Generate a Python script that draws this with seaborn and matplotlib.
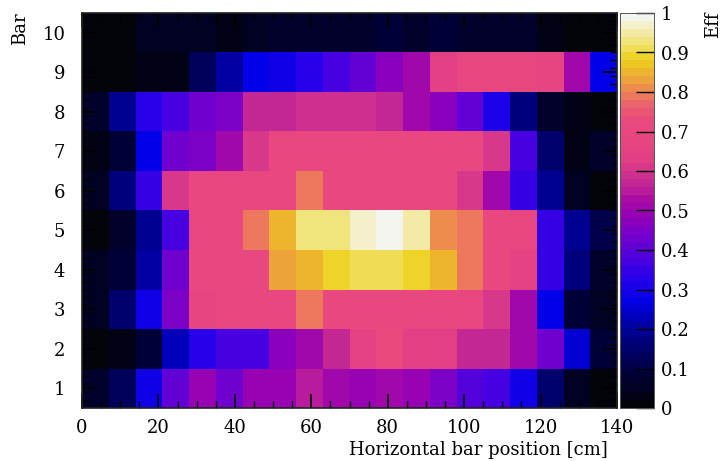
import numpy as np
import pandas as pd
import matplotlib
matplotlib.use("Agg")
import matplotlib.pyplot as plt
import seaborn as sns
from matplotlib.colors import LinearSegmentedColormap, ListedColormap
from matplotlib.ticker import FixedLocator

# ---- data (efficiency per bar and 7 cm horizontal bin) ----
x_edges_cm = [0, 7, 14, 21, 28, 35, 42, 49, 56, 63, 70, 77, 84, 91, 98, 105, 112, 119, 126, 133, 140]
bars = [10, 9, 8, 7, 6, 5, 4, 3, 2, 1]

bar10 = [0.01, 0.01, 0.04, 0.04, 0.05, 0.03, 0.05, 0.06, 0.07, 0.06, 0.06, 0.09, 0.07, 0.09, 0.07, 0.07, 0.07, 0.03, 0.01, 0.01]
bar9 = [0.01, 0.01, 0.02, 0.02, 0.12, 0.20, 0.27, 0.28, 0.32, 0.36, 0.40, 0.47, 0.50, 0.62, 0.68, 0.68, 0.68, 0.67, 0.50, 0.27]
bar8 = [0.07, 0.18, 0.32, 0.37, 0.43, 0.45, 0.56, 0.56, 0.59, 0.59, 0.59, 0.57, 0.50, 0.47, 0.40, 0.31, 0.17, 0.06, 0.02, 0.01]
bar7 = [0.03, 0.08, 0.27, 0.42, 0.45, 0.50, 0.60, 0.68, 0.70, 0.70, 0.71, 0.70, 0.70, 0.70, 0.70, 0.60, 0.37, 0.15, 0.03, 0.06]
bar6 = [0.05, 0.17, 0.35, 0.61, 0.68, 0.69, 0.70, 0.70, 0.78, 0.70, 0.71, 0.71, 0.70, 0.70, 0.61, 0.50, 0.35, 0.18, 0.04, 0.01]
bar5 = [0.01, 0.06, 0.18, 0.36, 0.69, 0.70, 0.78, 0.85, 0.92, 0.93, 0.96, 1.00, 0.94, 0.81, 0.79, 0.70, 0.68, 0.35, 0.18, 0.10]
bar4 = [0.05, 0.08, 0.20, 0.42, 0.70, 0.70, 0.70, 0.82, 0.84, 0.88, 0.91, 0.90, 0.88, 0.85, 0.78, 0.70, 0.65, 0.35, 0.17, 0.06]
bar3 = [0.05, 0.14, 0.28, 0.45, 0.66, 0.69, 0.70, 0.70, 0.78, 0.70, 0.71, 0.71, 0.71, 0.70, 0.69, 0.61, 0.50, 0.27, 0.09, 0.05]
bar2 = [0.01, 0.02, 0.08, 0.23, 0.32, 0.37, 0.37, 0.47, 0.50, 0.57, 0.64, 0.72, 0.62, 0.62, 0.57, 0.57, 0.50, 0.42, 0.25, 0.09]
bar1 = [0.07, 0.12, 0.28, 0.40, 0.48, 0.43, 0.48, 0.49, 0.55, 0.50, 0.49, 0.50, 0.48, 0.44, 0.38, 0.37, 0.28, 0.14, 0.04, 0.01]

x_ticks_cm = [0, 20, 40, 60, 80, 100, 120, 140]
cbar_ticks = [0, 0.1, 0.2, 0.3, 0.4, 0.5, 0.6, 0.7, 0.8, 0.9, 1.0]
cbar_labels = ["0", "0.1", "0.2", "0.3", "0.4", "0.5", "0.6", "0.7", "0.8", "0.9", "1"]

rows = [bar10, bar9, bar8, bar7, bar6, bar5, bar4, bar3, bar2, bar1]
df = pd.DataFrame(rows, index=bars, columns=x_edges_cm[:-1])

# ---- palette (black -> blue -> purple -> pink -> orange -> yellow -> white) ----
anchors = [
    (0.00, (0.01, 0.01, 0.04)),
    (0.08, (0.00, 0.00, 0.22)),
    (0.14, (0.00, 0.00, 0.42)),
    (0.20, (0.00, 0.00, 0.62)),
    (0.26, (0.00, 0.00, 0.90)),
    (0.32, (0.14, 0.00, 0.92)),
    (0.37, (0.28, 0.00, 0.88)),
    (0.42, (0.42, 0.00, 0.82)),
    (0.48, (0.57, 0.00, 0.72)),
    (0.53, (0.67, 0.05, 0.64)),
    (0.58, (0.78, 0.17, 0.57)),
    (0.63, (0.88, 0.25, 0.52)),
    (0.68, (0.91, 0.27, 0.51)),
    (0.74, (0.91, 0.29, 0.49)),
    (0.78, (0.92, 0.40, 0.42)),
    (0.81, (0.93, 0.53, 0.32)),
    (0.85, (0.93, 0.68, 0.20)),
    (0.89, (0.93, 0.82, 0.10)),
    (0.93, (0.94, 0.88, 0.40)),
    (0.97, (0.95, 0.93, 0.72)),
    (1.00, (0.96, 0.96, 0.94)),
]
smooth = LinearSegmentedColormap.from_list("eff", anchors)
cmap = ListedColormap(smooth(np.linspace(0, 1, 50)))

plt.rcParams["font.family"] = ["DejaVu Serif"]
plt.rcParams["font.size"] = 13

W, H = 723, 461
fig = plt.figure(figsize=(W / 100, H / 100), dpi=100)
ax = fig.add_axes([82 / W, 1 - 408 / H, (617 - 82) / W, (408 - 13) / H])
cax = fig.add_axes([620 / W, 1 - 408 / H, 34 / W, (408 - 13) / H])

sns.heatmap(df, ax=ax, cmap=cmap, vmin=0, vmax=1, cbar_ax=cax,
            xticklabels=False, yticklabels=False, linewidths=0)

bin_w = x_edges_cm[1] - x_edges_cm[0]
# x axis: cm -> column index
ax.xaxis.set_major_locator(FixedLocator([v / bin_w for v in x_ticks_cm]))
ax.set_xticklabels([str(v) for v in x_ticks_cm])
ax.xaxis.set_minor_locator(FixedLocator([v / bin_w for v in range(0, 141, 5) if v % 20]))
# y axis: bar number -> heatmap row coordinate
nb = len(bars)
ax.yaxis.set_major_locator(FixedLocator([nb + 0.5 - b for b in range(1, nb + 1)]))
ax.set_yticklabels([str(b) for b in range(1, nb + 1)])
ax.yaxis.set_minor_locator(FixedLocator([nb + 0.5 - (0.5 + 0.2 * k) for k in range(1, 50)]))
ax.set_xlim(0, len(x_edges_cm) - 1)
ax.set_ylim(nb, 0)

ax.tick_params(which="both", direction="in", top=True, right=True, colors="black", labelsize=13)
ax.tick_params(which="major", length=10, width=1.2, pad=8)
ax.tick_params(which="minor", length=5, width=1.0)
ax.tick_params(axis="y", which="major", pad=12)
for lab in ax.get_xticklabels() + ax.get_yticklabels():
    lab.set_rotation(0)
for s in ax.spines.values():
    s.set_visible(True)
    s.set_color("#222222")
    s.set_linewidth(1.2)

ax.set_xlabel("")
ax.set_ylabel("")
fig.text(608 / W, 1 - 450 / H, "Horizontal bar position [cm]", ha="right", va="center", fontsize=13)
fig.text(20 / W, 1 - 12 / H, "Bar", ha="center", va="top", rotation=90, fontsize=13)
fig.text(713 / W, 1 - 12 / H, "Eff", ha="center", va="top", rotation=90, fontsize=13)

# colorbar
cax.yaxis.set_ticks_position("right")
cax.set_yticks(cbar_ticks)
cax.set_yticklabels(cbar_labels)
cax.tick_params(direction="in", length=13, width=1.0, labelsize=13, pad=5, colors="black")
cax.minorticks_off()
for s in cax.spines.values():
    s.set_visible(True)
    s.set_linewidth(0.6)
    s.set_color("#555555")

fig.savefig("out.png", dpi=100)
